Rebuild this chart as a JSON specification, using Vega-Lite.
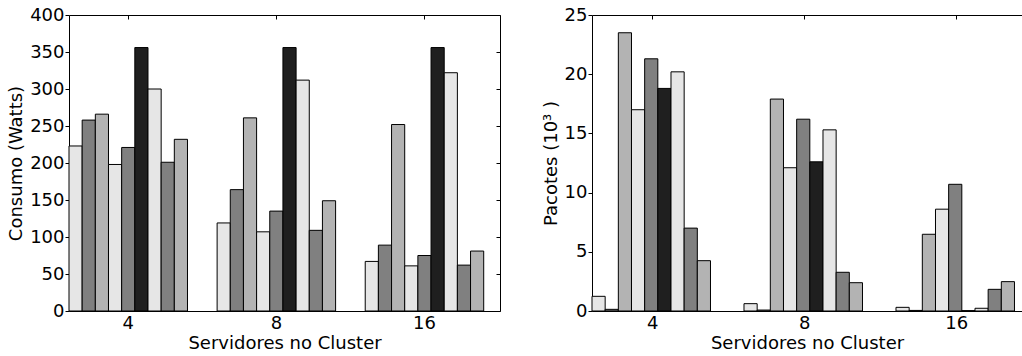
{
  "$schema": "https://vega.github.io/schema/vega-lite/v6.json",
  "padding": {"left": 7, "top": 6, "right": 0, "bottom": 0},
  "config": {
    "font": "DejaVu Sans",
    "view": {"stroke": null},
    "concat": {"spacing": 41},
    "axis": {
      "labelFont": "DejaVu Sans", "titleFont": "DejaVu Sans",
      "labelFontSize": 18, "titleFontSize": 18,
      "labelColor": "#000", "titleColor": "#000", "titleFontWeight": "normal",
      "grid": false, "domainColor": "#000", "tickColor": "#000", "domainWidth": 1, "tickWidth": 1
    }
  },
  "datasets": {
    "consumo": [
      {"servers": "4", "series": "s1", "value": 223},
      {"servers": "4", "series": "s2", "value": 258},
      {"servers": "4", "series": "s3", "value": 266},
      {"servers": "4", "series": "s4", "value": 198},
      {"servers": "4", "series": "s5", "value": 221},
      {"servers": "4", "series": "s6", "value": 356},
      {"servers": "4", "series": "s7", "value": 300},
      {"servers": "4", "series": "s8", "value": 201},
      {"servers": "4", "series": "s9", "value": 232},
      {"servers": "8", "series": "s1", "value": 119},
      {"servers": "8", "series": "s2", "value": 164},
      {"servers": "8", "series": "s3", "value": 261},
      {"servers": "8", "series": "s4", "value": 107},
      {"servers": "8", "series": "s5", "value": 135},
      {"servers": "8", "series": "s6", "value": 356},
      {"servers": "8", "series": "s7", "value": 312},
      {"servers": "8", "series": "s8", "value": 109},
      {"servers": "8", "series": "s9", "value": 149},
      {"servers": "16", "series": "s1", "value": 67},
      {"servers": "16", "series": "s2", "value": 89},
      {"servers": "16", "series": "s3", "value": 252},
      {"servers": "16", "series": "s4", "value": 61},
      {"servers": "16", "series": "s5", "value": 75},
      {"servers": "16", "series": "s6", "value": 356},
      {"servers": "16", "series": "s7", "value": 322},
      {"servers": "16", "series": "s8", "value": 62},
      {"servers": "16", "series": "s9", "value": 81}
    ],
    "pacotes": [
      {"servers": "4", "series": "s1", "value": 1.24},
      {"servers": "4", "series": "s2", "value": 0.14},
      {"servers": "4", "series": "s3", "value": 23.5},
      {"servers": "4", "series": "s4", "value": 17.0},
      {"servers": "4", "series": "s5", "value": 21.3},
      {"servers": "4", "series": "s6", "value": 18.8},
      {"servers": "4", "series": "s7", "value": 20.2},
      {"servers": "4", "series": "s8", "value": 7.0},
      {"servers": "4", "series": "s9", "value": 4.25},
      {"servers": "8", "series": "s1", "value": 0.62},
      {"servers": "8", "series": "s2", "value": 0.08},
      {"servers": "8", "series": "s3", "value": 17.9},
      {"servers": "8", "series": "s4", "value": 12.1},
      {"servers": "8", "series": "s5", "value": 16.2},
      {"servers": "8", "series": "s6", "value": 12.6},
      {"servers": "8", "series": "s7", "value": 15.3},
      {"servers": "8", "series": "s8", "value": 3.27},
      {"servers": "8", "series": "s9", "value": 2.39},
      {"servers": "16", "series": "s1", "value": 0.31},
      {"servers": "16", "series": "s2", "value": 0.05},
      {"servers": "16", "series": "s3", "value": 6.48},
      {"servers": "16", "series": "s4", "value": 8.6},
      {"servers": "16", "series": "s5", "value": 10.7},
      {"servers": "16", "series": "s6", "value": 0.03},
      {"servers": "16", "series": "s7", "value": 0.23},
      {"servers": "16", "series": "s8", "value": 1.83},
      {"servers": "16", "series": "s9", "value": 2.48}
    ]
  },
  "hconcat": [
    {
      "data": {"name": "consumo"},
      "width": 431,
      "height": 296,
      "layer": [
        {
          "mark": {"type": "bar", "stroke": "#000", "strokeWidth": 1},
          "encoding": {
            "x": {"field": "servers", "type": "nominal", "sort": ["4", "8", "16"],
              "scale": {"paddingInner": 0.2, "paddingOuter": 0.055, "align": 0},
              "axis": {"title": "Servidores no Cluster", "labelAngle": 0, "tickSize": 0, "labelPadding": 3, "titlePadding": 2}},
            "xOffset": {"field": "series", "type": "nominal", "sort": ["s1","s2","s3","s4","s5","s6","s7","s8","s9"],
              "scale": {"paddingInner": 0, "paddingOuter": 0}},
            "y": {"field": "value", "type": "quantitative",
              "scale": {"domain": [0, 400], "nice": false},
              "axis": {"title": "Consumo (Watts)", "values": [0, 50, 100, 150, 200, 250, 300, 350, 400], "tickSize": 4, "labelPadding": 1, "titlePadding": 4}},
            "color": {"field": "series", "type": "nominal",
              "scale": {"domain": ["s1","s2","s3","s4","s5","s6","s7","s8","s9"],
                "range": ["#e6e6e6","#808080","#b3b3b3","#e6e6e6","#808080","#1f1f1f","#e6e6e6","#808080","#b3b3b3"]},
              "legend": null}
          }
        },
        {
          "mark": {"type": "bar", "opacity": 0},
          "encoding": {
            "x": {"field": "servers", "type": "nominal", "sort": ["4", "8", "16"],
              "axis": {"orient": "top", "title": null, "labels": false, "tickSize": -4}},
            "xOffset": {"field": "series", "type": "nominal", "sort": ["s1","s2","s3","s4","s5","s6","s7","s8","s9"]},
            "y": {"field": "value", "type": "quantitative",
              "axis": {"orient": "right", "title": null, "labels": false, "tickSize": -4, "values": [0, 50, 100, 150, 200, 250, 300, 350, 400]}}
          }
        }
      ],
      "resolve": {"axis": {"x": "independent", "y": "independent"}}
    },
    {
      "data": {"name": "pacotes"},
      "width": 430,
      "height": 296,
      "layer": [
        {
          "mark": {"type": "bar", "stroke": "#000", "strokeWidth": 1},
          "encoding": {
            "x": {"field": "servers", "type": "nominal", "sort": ["4", "8", "16"],
              "scale": {"paddingInner": 0.2, "paddingOuter": 0.0145, "align": 0},
              "axis": {"title": "Servidores no Cluster", "labelAngle": 0, "tickSize": 0, "labelPadding": 3, "titlePadding": 2}},
            "xOffset": {"field": "series", "type": "nominal", "sort": ["s1","s2","s3","s4","s5","s6","s7","s8","s9"],
              "scale": {"paddingInner": 0, "paddingOuter": 0}},
            "y": {"field": "value", "type": "quantitative",
              "scale": {"domain": [0, 25], "nice": false},
              "axis": {"title": "Pacotes (10³ )", "values": [0, 5, 10, 15, 20, 25], "tickSize": 4, "labelPadding": 1, "titlePadding": 4}},
            "color": {"field": "series", "type": "nominal",
              "scale": {"domain": ["s1","s2","s3","s4","s5","s6","s7","s8","s9"],
                "range": ["#e6e6e6","#808080","#b3b3b3","#e6e6e6","#808080","#1f1f1f","#e6e6e6","#808080","#b3b3b3"]},
              "legend": null}
          }
        },
        {
          "mark": {"type": "bar", "opacity": 0},
          "encoding": {
            "x": {"field": "servers", "type": "nominal", "sort": ["4", "8", "16"],
              "axis": {"orient": "top", "title": null, "labels": false, "tickSize": -4}},
            "xOffset": {"field": "series", "type": "nominal", "sort": ["s1","s2","s3","s4","s5","s6","s7","s8","s9"]},
            "y": {"field": "value", "type": "quantitative", "axis": null}
          }
        }
      ],
      "resolve": {"axis": {"x": "independent", "y": "independent"}}
    }
  ]
}
